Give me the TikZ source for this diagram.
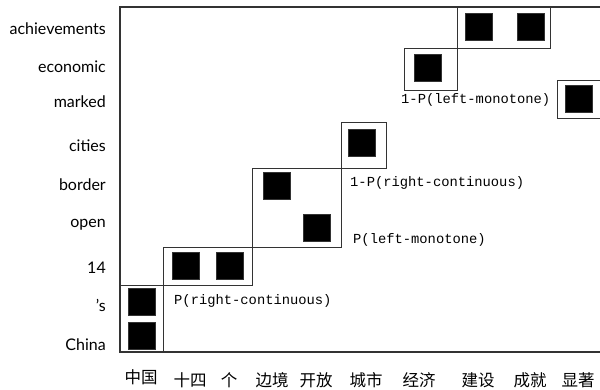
\documentclass[tikz,border=0pt]{standalone}
\usepackage{fontspec}
\setmainfont{Lato}
\newfontfamily\cjkfont{Noto Sans CJK SC}
\newfontfamily\monofont{Liberation Mono}
\begin{document}
\begin{tikzpicture}[x=1pt,y=-1pt,
  cell/.style={fill=black,draw=black!80,minimum size=27pt,inner sep=0pt},
  frm/.style={draw=black!80,line width=1.2pt},
  boxl/.style={draw=black!80,line width=1pt},
  rowlab/.style={anchor=east,font=\fontsize{16}{16}\selectfont,inner sep=0pt},
  collab/.style={anchor=center,font=\cjkfont\fontsize{16.5}{16.5}\selectfont,inner sep=0pt},
  plab/.style={anchor=west,font=\monofont\fontsize{13.8}{13.8}\selectfont,inner sep=0pt}]
\useasboundingbox (0,0) rectangle (600,389);
% frame
\draw[frm] (600,7) -- (120,7) -- (120,352) -- (600,352);
% boxes
\draw[boxl] (120,285) rectangle (163,352);
\draw[boxl] (163,247) rectangle (252,285);
\draw[boxl] (252,168) rectangle (341,247);
\draw[boxl] (341,122) rectangle (386,168);
\draw[boxl] (404,48) rectangle (457,90);
\draw[boxl] (457,7) rectangle (550,48);
\draw[boxl] (600,80) -- (557,80) -- (557,118) -- (600,118);
% cells
\node[cell] (c1) at (141.5,336) {};
\node[cell] (c2) at (141.5,301.5) {};
\node[cell] (c3) at (186,265.5) {};
\node[cell] (c4) at (229.5,265.5) {};
\node[cell] (c5) at (276.5,186) {};
\node[cell] (c6) at (317,228) {};
\node[cell] (c7) at (361.5,142.5) {};
\node[cell] (c8) at (427.5,67.5) {};
\node[cell] (c9) at (478.5,27) {};
\node[cell] (c10) at (531,27) {};
\node[cell] (c11) at (579,98.5) {};
% probability labels
\node[plab] (p1) at (174,301) {P(right-continuous)};
\node[plab] (p2) at (353,240) {P(left-monotone)};
\node[plab] (p3) at (350,183) {1-P(right-continuous)};
\node[plab] (p4) at (401,100) {1-P(left-monotone)};
% row labels
\node[rowlab] (r1) at (106,29) {achievements};
\node[rowlab] (r2) at (106,67) {economic};
\node[rowlab] (r3) at (106,102) {marked};
\node[rowlab] (r4) at (106,146) {cities};
\node[rowlab] (r5) at (106,185) {border};
\node[rowlab] (r6) at (106,225) {open};
\node[rowlab] (r7) at (106,268) {14};
\node[rowlab] (r8) at (106,305) {'s};
\node[rowlab] (r9) at (106,345) {China};
% column labels
\node[collab] (k1) at (141,377) {中国};
\node[collab] (k2) at (190,380) {十四};
\node[collab] (k3) at (229,380) {个};
\node[collab] (k4) at (272,380) {边境};
\node[collab] (k5) at (316,380) {开放};
\node[collab] (k6) at (366,380) {城市};
\node[collab] (k7) at (419,380) {经济};
\node[collab] (k8) at (478,380) {建设};
\node[collab] (k9) at (530,380) {成就};
\node[collab] (k10) at (578,380) {显著};
\end{tikzpicture}
\end{document}
